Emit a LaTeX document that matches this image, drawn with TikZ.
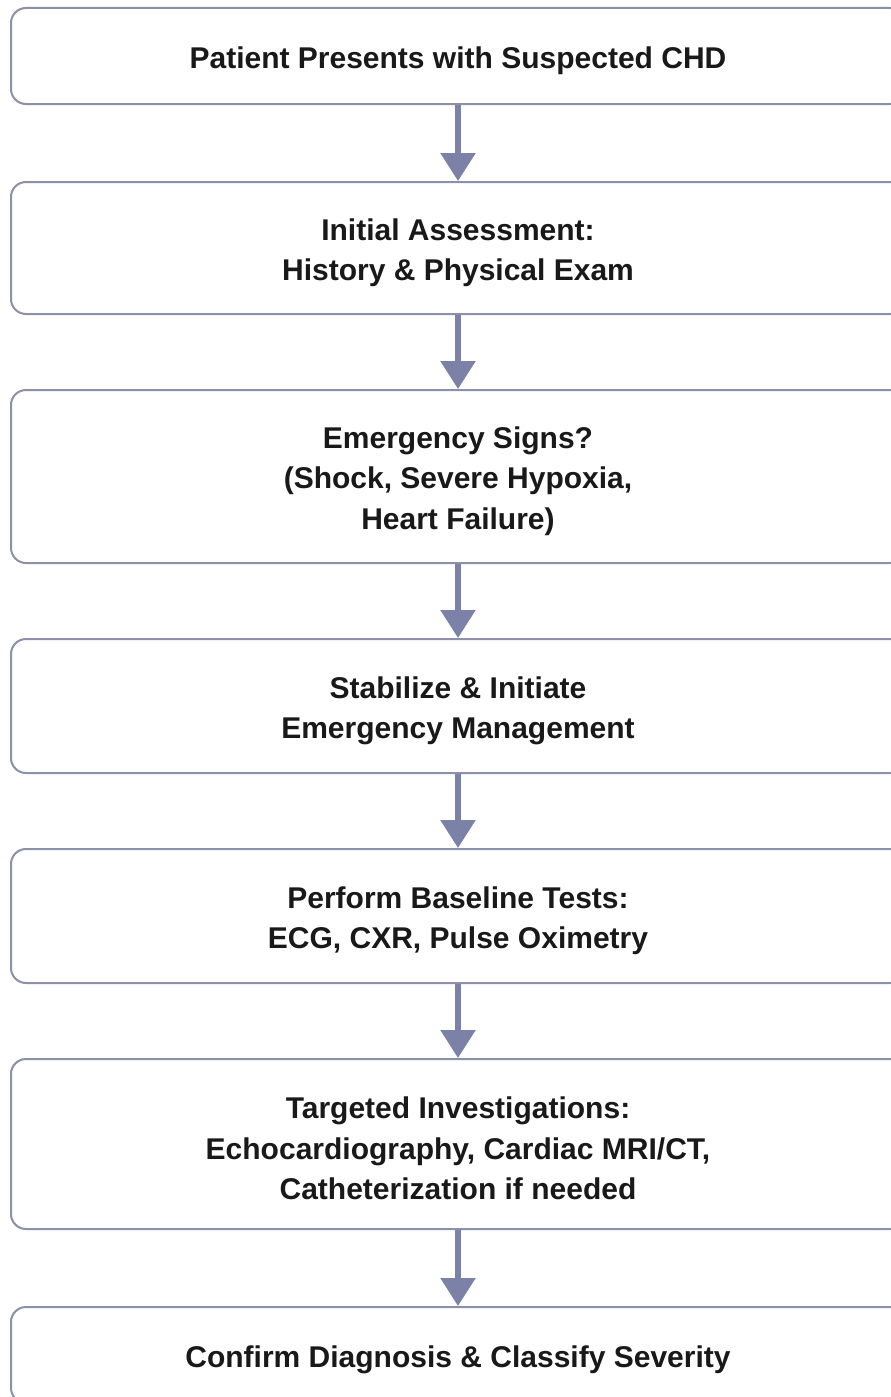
\documentclass[tikz,border=0pt]{standalone}
\usepackage{fontspec}
\setmainfont{Liberation Sans}
\usetikzlibrary{arrows.meta}
\definecolor{boxline}{HTML}{8C90A8}
\definecolor{arrowcol}{HTML}{7C81A8}
\newcommand{\topstrut}{\rule{0pt}{31pt}}
\tikzset{
  stepbox/.style={draw=boxline, line width=2pt, fill=white, rounded corners=15pt,
    minimum width=894pt, align=center, inner sep=0pt,
    font=\fontsize{30}{40.5}\selectfont\bfseries, text=black!90},
  flowarrow/.style={draw=arrowcol, line width=5.5pt,
    -{Triangle[width=34pt,length=28pt]}, shorten >=0pt}
}
\begin{document}
\begin{tikzpicture}[x=1pt,y=-1pt]
\clip (0,0) rectangle (891,1397);
\fill[white] (0,0) rectangle (891,1397);
\node[stepbox, minimum height=96pt] (b1) at (458,56) {\topstrut Patient Presents with Suspected CHD};
\node[stepbox, minimum height=132pt] (b2) at (458,248) {\topstrut Initial Assessment:\\History \& Physical Exam};
\node[stepbox, minimum height=173pt] (b3) at (458,476.5) {\topstrut Emergency Signs?\\(Shock, Severe Hypoxia,\\Heart Failure)};
\node[stepbox, minimum height=134pt] (b4) at (458,706) {\topstrut Stabilize \& Initiate\\Emergency Management};
\node[stepbox, minimum height=134pt] (b5) at (458,916) {\topstrut Perform Baseline Tests:\\ECG, CXR, Pulse Oximetry};
\node[stepbox, minimum height=170pt] (b6) at (458,1144) {\topstrut Targeted Investigations:\\Echocardiography, Cardiac MRI/CT,\\Catheterization if needed};
\node[stepbox, minimum height=96pt] (b7) at (458,1355) {\topstrut Confirm Diagnosis \& Classify Severity};
\draw[flowarrow] (b1.south) -- (b2.north);
\draw[flowarrow] (b2.south) -- (b3.north);
\draw[flowarrow] (b3.south) -- (b4.north);
\draw[flowarrow] (b4.south) -- (b5.north);
\draw[flowarrow] (b5.south) -- (b6.north);
\draw[flowarrow] (b6.south) -- (b7.north);
\end{tikzpicture}
\end{document}
